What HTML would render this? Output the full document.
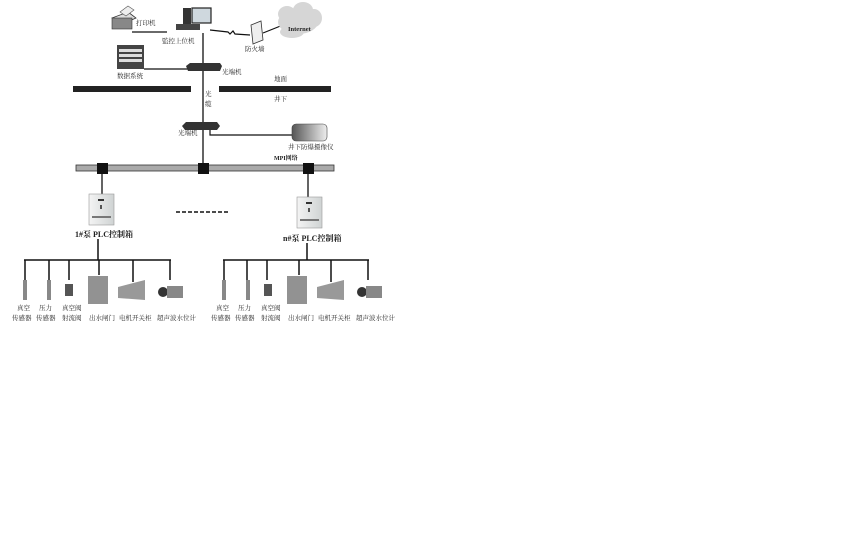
<!DOCTYPE html>
<html><head><meta charset="utf-8"><style>
html,body{margin:0;padding:0;background:#fff;}
svg{display:block;}
text{font-family:"Liberation Serif","Noto Serif CJK SC","Noto Sans CJK SC",serif;fill:#222;}
</style></head><body>
<svg width="864" height="540" viewBox="0 0 864 540" xmlns="http://www.w3.org/2000/svg">
<defs>
<linearGradient id="box" x1="0" x2="1"><stop offset="0" stop-color="#f4f4f4"/><stop offset="1" stop-color="#cfd3d3"/></linearGradient>
<linearGradient id="cab" x1="0" x2="1"><stop offset="0" stop-color="#555"/><stop offset="1" stop-color="#eee"/></linearGradient>
</defs>
<!-- printer -->
<g>
<polygon points="112,18 128,12 136,18 120,25" fill="#ddd" stroke="#333" stroke-width="0.8"/>
<rect x="112" y="18" width="20" height="11" fill="#888" stroke="#333" stroke-width="0.6"/>
<polygon points="120,12 128,6 134,10 126,16" fill="#eee" stroke="#555" stroke-width="0.6"/>
</g>
<text x="136" y="25" font-size="6.5">打印机</text>
<line x1="132" y1="32" x2="167" y2="32" stroke="#111" stroke-width="1.3"/>
<!-- computer -->
<rect x="183" y="8" width="8" height="18" fill="#333"/>
<rect x="192" y="8" width="19" height="15" fill="#cfd8de" stroke="#222" stroke-width="1.2"/>
<rect x="176" y="24" width="24" height="6" fill="#444"/>
<text x="162" y="43" font-size="6.5">監控上位机</text>
<polyline points="210,30 228,32 230,34 233,31 235,34 250,35" fill="none" stroke="#111" stroke-width="1.2"/>
<!-- firewall -->
<polygon points="251,25 261,21 263,40 253,44" fill="#eee" stroke="#333" stroke-width="0.8"/>
<line x1="263" y1="33" x2="283" y2="25" stroke="#111" stroke-width="1.2"/>
<text x="245" y="51" font-size="6.5">防火墙</text>
<!-- cloud -->
<g fill="#d6d6d6">
<ellipse cx="298" cy="22" rx="20" ry="12"/><ellipse cx="287" cy="14" rx="9" ry="8"/><ellipse cx="303" cy="10" rx="10" ry="8"/><ellipse cx="314" cy="18" rx="8" ry="9"/><ellipse cx="292" cy="32" rx="12" ry="6"/>
</g>
<text x="288" y="31" font-size="6.5" font-weight="bold">Internet</text>
<!-- main vertical -->
<line x1="203" y1="33" x2="203" y2="168" stroke="#111" stroke-width="1.3"/>
<!-- data system -->
<rect x="117" y="45" width="27" height="24" fill="#444"/>
<g fill="#ddd"><rect x="119" y="49" width="23" height="3"/><rect x="119" y="54" width="23" height="3"/><rect x="119" y="59" width="23" height="3"/></g>
<text x="117" y="78" font-size="6.5">数据系统</text>
<line x1="144" y1="69" x2="188" y2="69" stroke="#111" stroke-width="1.2"/>
<polygon points="186,66 190,63 220,63 222,66 220,71 188,71" fill="#333"/>
<text x="222" y="74" font-size="6.5">光端机</text>
<!-- ground bars -->
<rect x="73" y="86" width="118" height="6" fill="#222"/>
<rect x="219" y="86" width="112" height="6" fill="#222"/>
<text x="274" y="81" font-size="6.5">地面</text>
<text x="274" y="101" font-size="6.5">井下</text>
<text x="205" y="96" font-size="6.5">光</text>
<text x="205" y="106" font-size="6.5">缆</text>
<!-- lower switch -->
<polygon points="182,126 186,122 217,122 220,126 217,130 185,130" fill="#333"/>
<text x="178" y="135" font-size="6.5">光端机</text>
<polyline points="210,130 210,135 292,135" fill="none" stroke="#111" stroke-width="1.2"/>
<rect x="292" y="124" width="35" height="17" rx="4" fill="url(#cab)" stroke="#444" stroke-width="0.6"/>
<text x="288" y="149" font-size="6.5">井下防爆摄像仪</text>
<text x="274" y="160" font-size="6" font-weight="bold">MPI网络</text>
<!-- bus -->
<rect x="76" y="165" width="258" height="6" fill="#aaa" stroke="#333" stroke-width="0.8"/>
<rect x="97" y="163" width="11" height="11" fill="#111"/>
<rect x="198" y="163" width="11" height="11" fill="#111"/>
<rect x="303" y="163" width="11" height="11" fill="#111"/>
<line x1="102" y1="174" x2="102" y2="194" stroke="#111" stroke-width="1.3"/>
<line x1="308" y1="174" x2="308" y2="197" stroke="#111" stroke-width="1.3"/>
<!-- PLC boxes -->
<g>
<rect x="89" y="194" width="25" height="31" fill="url(#box)" stroke="#999" stroke-width="0.6"/>
<rect x="98" y="199" width="6" height="2" fill="#333"/><rect x="100" y="205" width="2" height="4" fill="#555"/>
<rect x="92" y="216" width="19" height="2" fill="#777"/>
</g>
<g>
<rect x="297" y="197" width="25" height="31" fill="url(#box)" stroke="#999" stroke-width="0.6"/>
<rect x="306" y="202" width="6" height="2" fill="#333"/><rect x="308" y="208" width="2" height="4" fill="#555"/>
<rect x="300" y="219" width="19" height="2" fill="#777"/>
</g>
<text x="75" y="237" font-size="8" font-weight="bold">1#泵 PLC控制箱</text>
<text x="283" y="241" font-size="8" font-weight="bold">n#泵 PLC控制箱</text>
<line x1="176" y1="212" x2="230" y2="212" stroke="#111" stroke-width="1.5" stroke-dasharray="4,2"/>
<!-- left tree -->
<g stroke="#111" stroke-width="1.5" fill="none">
<line x1="98" y1="239" x2="98" y2="260"/>
<line x1="24" y1="260" x2="171" y2="260"/>
<line x1="25" y1="260" x2="25" y2="280"/><line x1="49" y1="260" x2="49" y2="280"/><line x1="69" y1="260" x2="69" y2="280"/>
<line x1="99" y1="260" x2="99" y2="275"/><line x1="133" y1="260" x2="133" y2="282"/><line x1="170" y1="260" x2="170" y2="280"/>
<line x1="307" y1="243" x2="307" y2="260"/>
<line x1="223" y1="260" x2="369" y2="260"/>
<line x1="224" y1="260" x2="224" y2="280"/><line x1="247" y1="260" x2="247" y2="280"/><line x1="267" y1="260" x2="267" y2="280"/>
<line x1="299" y1="260" x2="299" y2="275"/><line x1="331" y1="260" x2="331" y2="282"/><line x1="368" y1="260" x2="368" y2="280"/>
</g>
<!-- devices -->
<g id="devs">
<rect x="23" y="280" width="4" height="20" fill="#888"/>
<rect x="47" y="280" width="4" height="20" fill="#888"/>
<rect x="65" y="284" width="8" height="12" fill="#555"/>
<rect x="88" y="276" width="20" height="28" fill="#777" opacity="0.8"/>
<polygon points="118,287 145,280 145,300 118,298" fill="#999"/>
<circle cx="163" cy="292" r="5" fill="#333"/>
<rect x="167" y="286" width="16" height="12" fill="#888"/>
</g>
<use href="#devs" x="199" y="0"/>
<g font-size="6.5">
<text x="17" y="310">真空</text><text x="39" y="310">压力</text><text x="62" y="310">真空阀</text>
<text x="12" y="320">传感器</text><text x="36" y="320">传感器</text><text x="62" y="320">射流阀</text>
<text x="89" y="320">出水闸门</text><text x="119" y="320">电机开关柜</text><text x="157" y="320">超声波水位计</text>
<text x="216" y="310">真空</text><text x="238" y="310">压力</text><text x="261" y="310">真空阀</text>
<text x="211" y="320">传感器</text><text x="235" y="320">传感器</text><text x="261" y="320">射流阀</text>
<text x="288" y="320">出水闸门</text><text x="318" y="320">电机开关柜</text><text x="356" y="320">超声波水位计</text>
</g>
</svg>
</body></html>
